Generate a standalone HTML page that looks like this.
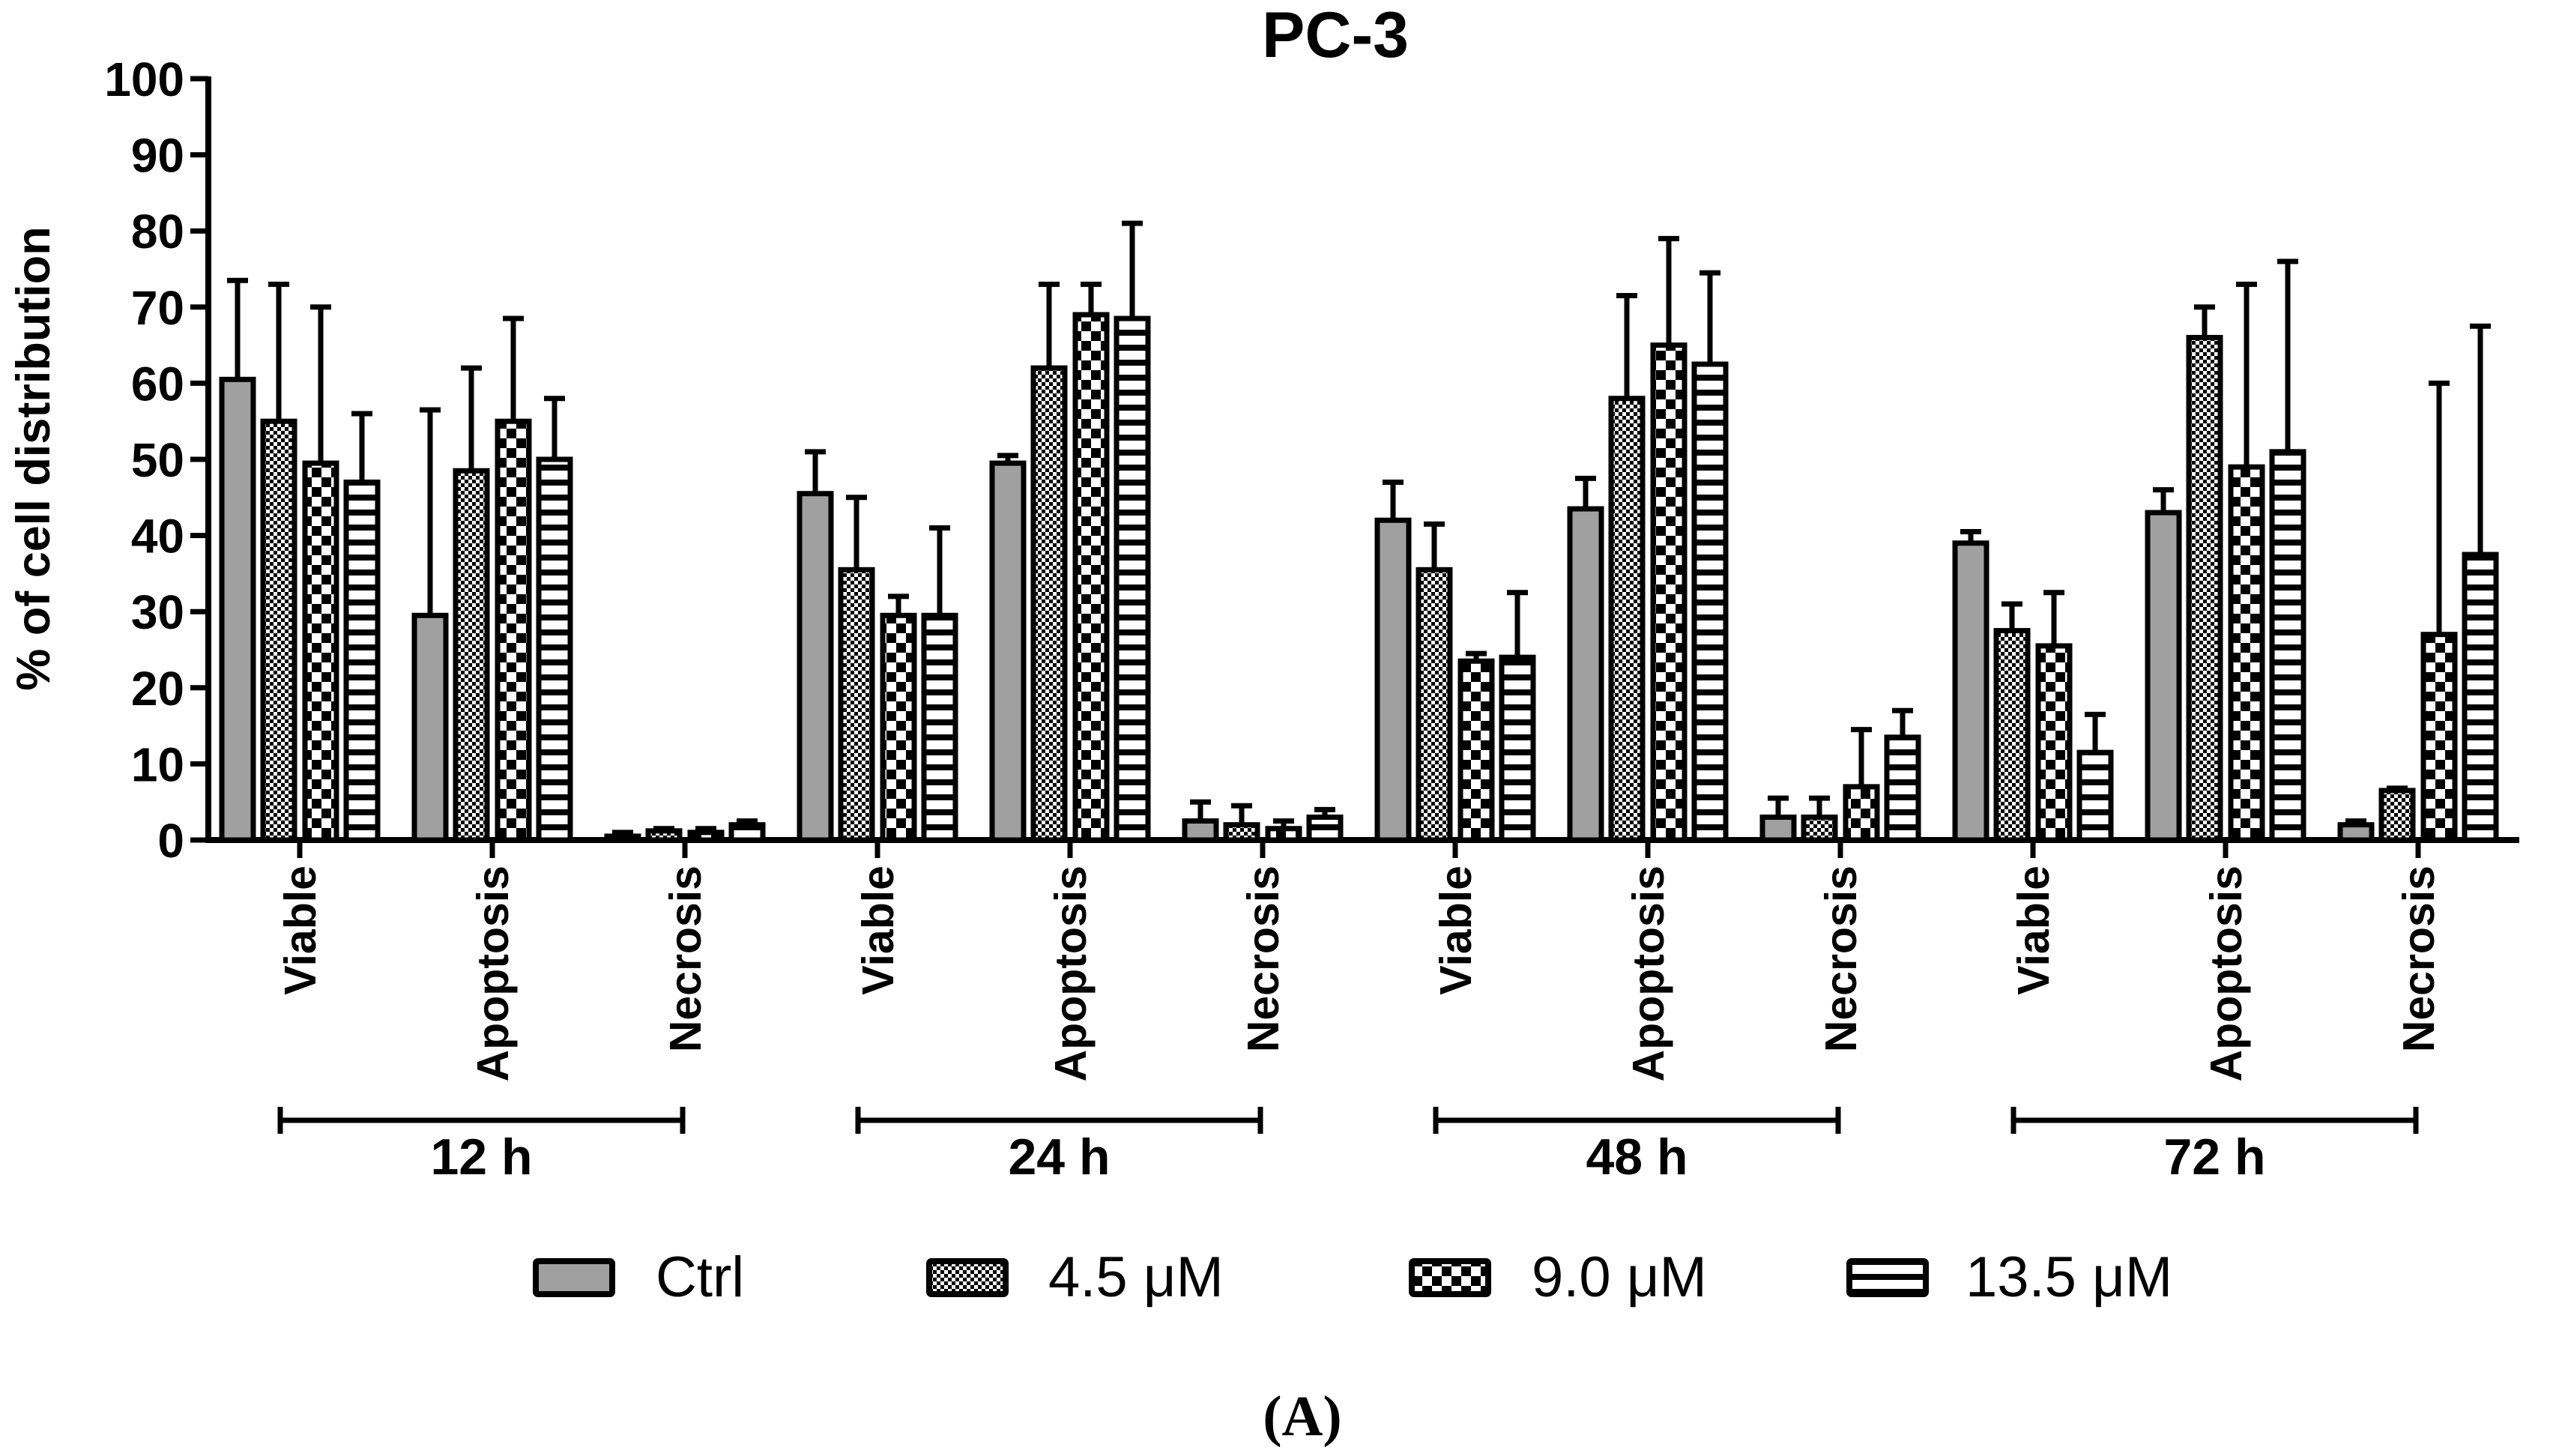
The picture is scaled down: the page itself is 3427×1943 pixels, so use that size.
<!DOCTYPE html>
<html><head><meta charset="utf-8"><style>
html,body{margin:0;padding:0;background:#fff;}
svg{display:block;font-family:"Liberation Sans",Arial,sans-serif;}
</style></head><body>
<svg id="chart" width="3427" height="1943" viewBox="0 0 3427 1943" xmlns="http://www.w3.org/2000/svg">
<defs>
<pattern id="p45" width="10" height="10" patternUnits="userSpaceOnUse"><rect width="10" height="10" fill="#fff"/><rect width="5" height="5" fill="#000"/><rect x="5" y="5" width="5" height="5" fill="#000"/></pattern>
<pattern id="p90" width="26" height="26" patternUnits="userSpaceOnUse"><rect width="26" height="26" fill="#fff"/><rect width="13" height="13" fill="#000"/><rect x="13" y="13" width="13" height="13" fill="#000"/></pattern>
<pattern id="p135" width="20" height="20" patternUnits="userSpaceOnUse"><rect width="20" height="20" fill="#fff"/><rect width="20" height="8" fill="#000"/></pattern>
</defs>
<text x="1782" y="76" text-anchor="middle" font-size="86" font-weight="bold">PC-3</text>
<text transform="translate(66,612) rotate(-90)" text-anchor="middle" font-size="63" font-weight="bold">% of cell distribution</text>
<g id="axes"></g>
<g id="bars"></g>
<g id="xlabels"></g>
<g id="brackets"></g>
<g id="legend"></g>
<text x="1738" y="1915" text-anchor="middle" font-size="76" font-weight="bold" font-family="Liberation Serif, serif">(A)</text>
</svg>
<script>
const categories = ["Viable","Apoptosis","Necrosis","Viable","Apoptosis","Necrosis","Viable","Apoptosis","Necrosis","Viable","Apoptosis","Necrosis"];
const timeGroups = ["12 h","24 h","48 h","72 h"];
const seriesNames = ["Ctrl","4.5 \u03bcM","9.0 \u03bcM","13.5 \u03bcM"];
const ctrlMean = [60.5,29.5,0.5,45.5,49.5,2.5,42,43.5,3,39,43,2];
const ctrlErr  = [73.5,56.5,1,51,50.5,5,47,47.5,5.5,40.5,46,2.5];
const c45Mean  = [55,48.5,1.2,35.5,62,2,35.5,58,3,27.5,66,6.5];
const c45Err   = [73,62,1.5,45,73,4.5,41.5,71.5,5.5,31,70,6.8];
const c90Mean  = [49.5,55,1,29.5,69,1.5,23.5,65,7,25.5,49,27];
const c90Err   = [70,68.5,1.5,32,73,2.5,24.5,79,14.5,32.5,73,60];
const c135Mean = [47,50,2,29.5,68.5,3,24,62.5,13.5,11.5,51,37.5];
const c135Err  = [56,58,2.5,41,81,4,32.5,74.5,17,16.5,76,67.5];
const yTicks = [0,10,20,30,40,50,60,70,80,90,100];

const NS="http://www.w3.org/2000/svg";
const means=[ctrlMean,c45Mean,c90Mean,c135Mean];
const errs=[ctrlErr,c45Err,c90Err,c135Err];
const fills=["#a0a0a0","url(#p45)","url(#p90)","url(#p135)"];
const y0=1121, y100=105, ax=278, axEnd=3362;
const yS=v=>y0-(y0-y100)*v/100;
const xC=i=>400+i*257.0;
const offs=[-83,-28,28,83], bw=42;
function mk(tag,attrs,parent){const e=document.createElementNS(NS,tag);for(const k in attrs)e.setAttribute(k,attrs[k]);parent.appendChild(e);return e;}
const axes=document.getElementById('axes');
let yl=mk('line',{x1:ax,y1:y100-3,x2:ax,y2:y0+4,stroke:'#000','stroke-width':8},axes);


let xl=mk('line',{x1:ax-4,y1:y0,x2:axEnd,y2:y0,stroke:'#000','stroke-width':8},axes);


yTicks.forEach(t=>{
  const y=yS(t);
  let tk=mk('line',{x1:ax-24,y1:y,x2:ax,y2:y,stroke:'#000','stroke-width':7},axes);
  
  
  let tx=mk('text',{x:ax-32,y:y+23,'text-anchor':'end','font-size':64,'font-weight':'bold'},axes);
  tx.textContent=t;
  
  
});
const bars=document.getElementById('bars');
categories.forEach((c,i)=>{
  for(let s=0;s<4;s++){
    const cx=xC(i)+offs[s], v=means[s][i], e=errs[s][i];
    const top=yS(e);
    let el=mk('line',{x1:cx,y1:yS(v),x2:cx,y2:top,stroke:'#000','stroke-width':7},bars);
    
    
    let cap=mk('line',{x1:cx-14,y1:top,x2:cx+14,y2:top,stroke:'#000','stroke-width':7},bars);
    
    
    const yt=yS(v);
    let r=mk('rect',{x:cx-bw/2,y:yt,width:bw,height:Math.max(0,y0-yt),fill:fills[s],stroke:'#000','stroke-width':7},bars);
    
    
  }
});
const xlab=document.getElementById('xlabels');
categories.forEach((c,i)=>{
  const x=xC(i);
  let tk=mk('line',{x1:x,y1:y0,x2:x,y2:y0+24,stroke:'#000','stroke-width':7},xlab);
  
  
  let t=mk('text',{transform:`translate(${x+21},${y0+34}) rotate(-90)`,'text-anchor':'end','font-size':59,'font-weight':'bold'},xlab);
  t.textContent=c;
  
  
});
const br=document.getElementById('brackets');
timeGroups.forEach((g,k)=>{
  const xa=xC(k*3)-26, xb=xC(k*3+2)-3, y=1495;
  let l=mk('path',{d:`M${xa},${y-18}V${y+18}M${xa},${y}H${xb}M${xb},${y-18}V${y+18}`,stroke:'#000','stroke-width':7,fill:'none'},br);
  
  
  let t=mk('text',{x:(xa+xb)/2,y:1567,'text-anchor':'middle','font-size':68,'font-weight':'bold'},br);
  t.textContent=g;
  
  
});
const lg=document.getElementById('legend');
const lx=[715,1240,1884,2468], tx=[875,1399,2044,2623];
seriesNames.forEach((n,s)=>{
  let r=mk('rect',{x:lx[s],y:1683,width:102,height:44,fill:fills[s],stroke:'#000','stroke-width':8,rx:3},lg);
  
  
  let t=mk('text',{x:tx[s],y:1730,'font-size':76},lg);
  t.textContent=n;
  
  
});
</script>
</body></html>
